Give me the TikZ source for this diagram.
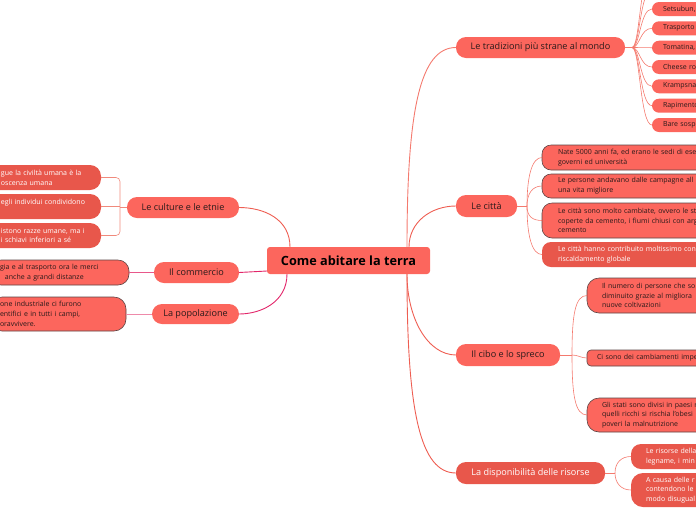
\documentclass[tikz,border=0pt]{standalone}
\usepackage{fontspec}
\setmainfont{Open Sans}
\definecolor{salmon}{HTML}{FC665D}
\definecolor{dred}{HTML}{E8574B}
\definecolor{bord}{HTML}{5C4444}
\definecolor{lnk}{HTML}{EE5E52}
\definecolor{lnkl}{HTML}{F47A6E}
\definecolor{pnk}{HTML}{E2266A}
\definecolor{pnktwo}{HTML}{E8578A}
\definecolor{pnkthree}{HTML}{EE8AAA}
\definecolor{brk}{HTML}{F08A7C}
\definecolor{txt}{HTML}{2A1A1A}
\begin{document}
\begin{tikzpicture}[x=1pt,y=-1pt,
  every node/.style={inner sep=0pt, outer sep=0pt},
  mainbox/.style={fill=salmon, rounded corners=3pt, font=\bfseries\fontsize{12.7}{14}\selectfont, text=black, anchor=north west},
  branch/.style={fill=salmon, rounded corners=10pt, font=\fontsize{9.1}{11}\selectfont, text=txt, anchor=north west},
  tleaf/.style={fill=salmon, rounded corners=7pt, font=\fontsize{7}{8}\selectfont, text=txt, anchor=north west, align=left, text width=100pt, inner xsep=11pt, minimum height=14pt},
  leaf/.style={fill=salmon, draw=bord, line width=0.6pt, anchor=north west, align=left, text width=220pt, font=\fontsize{7}{9.8}\selectfont, text=txt},
  dleaf/.style={leaf, fill=dred, draw=none, text=white},
  conn/.style={draw=lnk, line width=0.9pt},
  thin/.style={draw=lnkl, line width=0.6pt},
  pconn/.style={draw=pnk, line width=0.9pt},
]
\useasboundingbox (0,0) rectangle (696,520);
\clip (0,0) rectangle (696,520);

% central node
\node[mainbox, minimum width=163pt, minimum height=27pt] (M) at (267,247) {Come abitare la terra};

% branches
\node[branch, minimum width=169pt, minimum height=21pt] (T) at (456,37) {Le tradizioni più strane al mondo};
\node[branch, minimum width=61pt, minimum height=22pt] (C) at (456,195) {Le città};
\node[branch, minimum width=104pt, minimum height=22pt] (F) at (456,344) {Il cibo e lo spreco};
\node[branch, fill=dred, text=white, minimum width=149pt, minimum height=22pt] (D) at (456,462) {La disponibilità delle risorse};
\node[branch, minimum width=112pt, minimum height=21pt] (Cu) at (127,197) {Le culture e le etnie};
\node[branch, minimum width=85pt, minimum height=21pt] (Co) at (154,262) {Il commercio};
\node[branch, minimum width=87pt, minimum height=20pt] (P) at (152,304) {La popolazione};

% tradizioni leaves
\node[tleaf] (t1) at (652,2) {Setsubun,};
\node[tleaf] (t2) at (652,21.3) {Trasporto};
\node[tleaf] (t3) at (652,40.7) {Tomatina,};
\node[tleaf] (t4) at (652,60) {Cheese ro};
\node[tleaf] (t5) at (652,79.3) {Krampsna};
\node[tleaf] (t6) at (652,98.7) {Rapimento};
\node[tleaf] (t7) at (652,118) {Bare sosp};
\coordinate (ta) at (652,-10.5);
\coordinate (tb) at (652,-30);

% citta leaves
\node[leaf, inner xsep=16pt, minimum height=25pt, rounded corners=9pt] (c1) at (542,145) {Nate 5000 anni fa, ed erano le sedi di ese\\governi ed università};
\node[leaf, inner xsep=16pt, minimum height=24pt, rounded corners=9pt] (c2) at (542,174) {Le persone andavano dalle campagne all\\una vita migliore};
\node[leaf, inner xsep=16pt, minimum height=35pt, rounded corners=10pt] (c3) at (542,203) {Le città sono molto cambiate, ovvero le st\\coperte da cemento, i fiumi chiusi con arg\\cemento};
\node[dleaf, inner xsep=16pt, minimum height=25pt, rounded corners=9pt] (c4) at (542,242) {Le città hanno contribuito moltissimo con\\riscaldamento globale};

% cibo leaves
\node[leaf, inner xsep=15pt, minimum height=35pt, rounded corners=12pt] (f1) at (587,278) {Il numero di persone che so\\diminuito grazie al migliora\\nuove coltivazioni};
\node[leaf, inner xsep=10pt, minimum height=16pt, rounded corners=4pt] (f2) at (587,350) {Ci sono dei cambiamenti impe};
\node[leaf, inner xsep=15pt, minimum height=34pt, rounded corners=12pt] (f3) at (587,398) {Gli stati sono divisi in paesi r\\quelli ricchi si rischia l'obesi\\poveri la malnutrizione};

% disponibilita leaves
\node[dleaf, inner xsep=15pt, minimum height=25pt, rounded corners=10pt] (d1) at (631,444) {Le risorse della\\legname, i min};
\node[dleaf, inner xsep=15pt, minimum height=34pt, rounded corners=12pt] (d2) at (631,473) {A causa delle r\\contendono le\\modo disugual};

% left leaves
\node[dleaf, inner xsep=14pt, text width=86pt, minimum height=25pt, rounded corners=11pt] (cu1) at (-13,165) {gue la civiltà umana è la\\oscenza umana};
\node[dleaf, inner xsep=14pt, text width=86pt, minimum height=25pt, rounded corners=11pt] (cu2) at (-13,194) {egli individui condividono\\\mbox{}};
\node[dleaf, inner xsep=14pt, text width=86pt, minimum height=25pt, rounded corners=11pt] (cu3) at (-13,223) {istono razze umane, ma i\\i schiavi inferiori a sé};
\node[leaf, inner xsep=10pt, text width=119pt, minimum height=25pt, rounded corners=11pt] (co1) at (-10,260) {gia e al trasporto ora le merci\\\hspace*{5pt}anche a grandi distanze};
\node[leaf, inner xsep=10pt, text width=116pt, minimum height=34pt, rounded corners=12pt] (p1) at (-10,297) {one industriale ci furono\\entifici e in tutti i campi,\\oravvivere.};

% anchor points on the central node
\coordinate (Mtr) at ([xshift=-23pt]M.north east);
\coordinate (Mbr) at ([xshift=-23pt]M.south east);
\coordinate (Mtl) at ([xshift=23pt]M.north west);
\coordinate (Mbl) at ([xshift=20pt]M.south west);
\coordinate (Ml) at ([yshift=-10.5pt]M.west);

% central connectors
\draw[conn, draw=lnkl] (Mtr) .. controls +(0,-137) and +(-36,0) .. (T.west);
\draw[conn] ([xshift=2pt]Mtr) .. controls +(0,-25) and +(-25,0) .. (C.west);
\draw[conn] (Mbr) .. controls +(0,45) and +(-28,0) .. (F.west);
\draw[conn] (Mbr) .. controls +(0,137) and +(-36,0) .. (D.west);
\draw[conn] (Mtl) .. controls +(0,-28) and +(25,0) .. (Cu.east);
\draw[pconn] (Ml) -- (Co.east);
\draw[pconn] (Mbl) .. controls +(0,28) and +(22,0) .. (P.east);

% tradizioni fan
\coordinate (tT) at ([xshift=7pt]T.east);
\draw[thin] (T.east) -- (tT);
\foreach \n in {ta,tb,t1,t2,t3,t4,t5,t6,t7}
  \draw[thin] (tT) .. controls +(8,0) and +(-12,0) .. (\n.west);

% citta fan
\coordinate (tC) at ([xshift=10pt]C.east);
\draw[thin] (C.east) -- (tC);
\draw[thin] (tC) .. controls +(0,-30) and +(-10,0) .. (c1.west);
\draw[thin] (tC) .. controls +(0,-12) and +(-10,0) .. (c2.west);
\draw[thin] (tC) .. controls +(0,10) and +(-10,0) .. (c3.west);
\draw[thin] (tC) .. controls +(0,30) and +(-10,0) .. (c4.west);

% cibo fan
\coordinate (tF) at ([xshift=12pt]F.east);
\draw[thin] (F.east) -- (tF);
\draw[thin] (tF) .. controls +(0,-40) and +(-12,0) .. (f1.west);
\draw[thin] (tF) .. controls +(6,0) and +(-6,0) .. (f2.west);
\draw[thin] (tF) .. controls +(0,40) and +(-12,0) .. (f3.west);

% disponibilita fan
\coordinate (tD) at ([xshift=10pt]D.east);
\draw[thin] (D.east) -- (tD);
\draw[thin] (tD) .. controls +(0,-10) and +(-10,0) .. (d1.west);
\draw[thin] (tD) .. controls +(0,10) and +(-10,0) .. (d2.west);

% left leaf connectors
\draw[line width=0.8pt, draw=pnktwo] (Co.west) -- (co1.east);
\draw[line width=0.8pt, draw=pnkthree] (P.west) -- (p1.east);
\coordinate (bk) at ([xshift=-7pt]Cu.west);
\draw[line width=0.6pt, draw=brk] (Cu.west) -- (bk);
\draw[line width=0.6pt, draw=brk] (cu2.east) -- (cu2.east -| bk);
\draw[line width=0.6pt, draw=brk, rounded corners=4pt] (cu1.east) -| (bk) |- (cu3.east);
\end{tikzpicture}
\end{document}
